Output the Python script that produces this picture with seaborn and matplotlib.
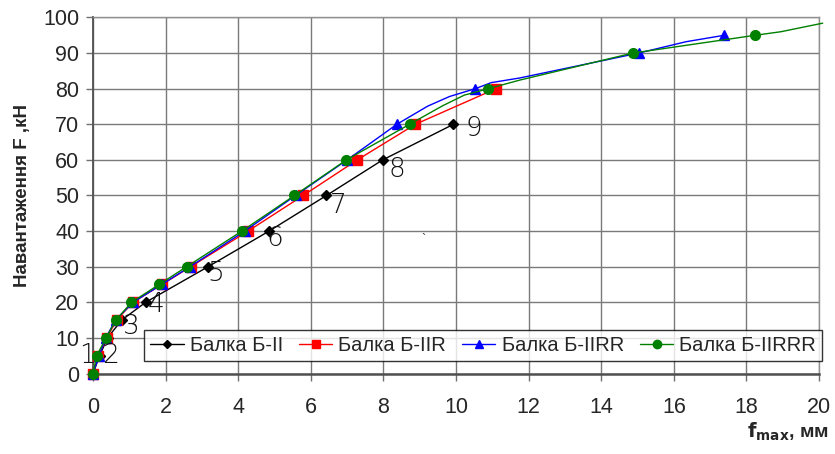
import numpy as np
import pandas as pd
import seaborn as sns
import matplotlib
matplotlib.use("Agg")
import matplotlib.pyplot as plt
from matplotlib.lines import Line2D

# ---- data ----
names = ["Балка Б-II", "Балка Б-IIR", "Балка Б-IIRR", "Балка Б-IIRRR"]

x_b2 = [0, 0.18, 0.40, 0.79, 1.45, 3.17, 4.85, 6.43, 7.98, 9.93]
f_b2 = [0, 5, 10, 15, 20, 30, 40, 50, 60, 70]

x_b2r = [0, 0.15, 0.38, 0.65, 1.10, 1.90, 2.69, 4.27, 5.79, 7.28, 8.88, 11.10]
f_b2r = [0, 5, 10, 15, 20, 25, 30, 40, 50, 60, 70, 80]

x_b2rr = [0, 0.17, 0.35, 0.62, 1.10, 1.89, 2.67, 4.18, 5.58, 7.00, 8.37, 10.53, 15.03, 17.39]
f_b2rr = [0, 5, 10, 15, 20, 25, 30, 40, 50, 60, 70, 80, 90, 95]

x_b2rrr = [0, 0.10, 0.36, 0.63, 1.06, 1.82, 2.58, 4.10, 5.55, 6.98, 8.72, 10.89, 14.87, 18.24]
f_b2rrr = [0, 5, 10, 15, 20, 25, 30, 40, 50, 60, 70, 80, 90, 95]

# unmarked intermediate vertices of the curves
xc_b2rr = [9.22, 9.82, 10.97, 11.75, 16.34]
fc_b2rr = [75.1, 77.8, 81.7, 83.0, 93.2]
xc_b2rrr = [9.63, 10.23, 11.75, 18.95, 20.10]
fc_b2rrr = [75.2, 78.2, 82.4, 96.0, 98.4]

point_labels = ["1", "2", "3", "4", "5", "6", "7", "8", "9"]
label_offsets = [(-12, 0), (3, -18), (10, -6), (10, -2), (8, -7),
                 (6, -7), (12, -10), (14, -10), (20, -4)]

x_ticks = list(range(0, 21, 2))
y_ticks = list(range(0, 101, 10))

colors = ["black", "red", "blue", "green"]
markers = ["D", "s", "^", "o"]
msizes = [5, 7, 7, 7]

# ---- build frames ----
marked = pd.concat([
    pd.DataFrame({"x": x_b2, "F": f_b2, "s": names[0]}),
    pd.DataFrame({"x": x_b2r, "F": f_b2r, "s": names[1]}),
    pd.DataFrame({"x": x_b2rr, "F": f_b2rr, "s": names[2]}),
    pd.DataFrame({"x": x_b2rrr, "F": f_b2rrr, "s": names[3]}),
], ignore_index=True)

curve = pd.concat([
    marked,
    pd.DataFrame({"x": xc_b2rr, "F": fc_b2rr, "s": names[2]}),
    pd.DataFrame({"x": xc_b2rrr, "F": fc_b2rrr, "s": names[3]}),
], ignore_index=True).sort_values(["s", "x"])

sns.set_style("white")
plt.rcParams["font.family"] = ["Liberation Sans", "DejaVu Sans"]

fig = plt.figure(figsize=(8.35, 4.54), dpi=100)
ax = fig.add_axes([0.1114, 0.1773, 0.8695, 0.7842])

for i, n in enumerate(names):
    c = curve[curve.s == n]
    sns.lineplot(data=c, x="x", y="F", color=colors[i], lw=1.0, sort=False,
                 estimator=None, ax=ax, legend=False, zorder=3 + i)
    m = marked[marked.s == n]
    ax.plot(m.x, m.F, ls="none", marker=markers[i], ms=msizes[i],
            color=colors[i], mec=colors[i], zorder=3.5 + i)

for ln in ax.get_lines():
    ln.set_clip_on(False)

# point labels on the Б-II curve
for lab, (px, py), (dx, dy) in zip(point_labels, zip(x_b2[1:], f_b2[1:]), label_offsets):
    ax.annotate(lab, (px, py), xytext=(dx * 0.72, dy * 0.72), textcoords="offset points",
                ha="center", va="center", fontsize=19, color="#111111",
                family=["DejaVu Sans"], fontweight="light", zorder=10)

ax.text(9.1, 37.5, "`", fontsize=9, color="#333", ha="center", va="center")

ax.set_xlim(0, 20)
ax.set_ylim(0, 100)
ax.set_xticks(x_ticks)
ax.set_yticks(y_ticks)
ax.tick_params(axis="both", labelsize=15.5, length=5, width=1, color="#707070",
               direction="out", pad=5, bottom=True, left=True)
ax.tick_params(axis="x", pad=12)
ax.grid(True, color="#7a7a7a", lw=1.0)
for s in ax.spines.values():
    s.set_color("#909090")
    s.set_linewidth(1.0)
ax.spines["bottom"].set_color("#505050")
ax.spines["bottom"].set_linewidth(1.8)
ax.spines["left"].set_color("#505050")
ax.spines["left"].set_linewidth(1.3)

ax.set_xlabel("")
ax.set_ylabel("Навантаження F ,кН", fontsize=13.5, fontweight="bold", labelpad=9)

fig.text(0.993, 0.025, r"$\mathbf{f}_{\mathbf{max}}$" + ", мм", ha="right", va="bottom",
         fontsize=14, fontweight="bold")

handles = [Line2D([], [], color=colors[i], lw=1.0, marker=markers[i],
                  ms=msizes[i] - 1, mec=colors[i]) for i in range(4)]
leg = ax.legend(handles, names, loc="lower right", bbox_to_anchor=(1.004, 0.035),
                ncol=4, fontsize=14.5, frameon=True, fancybox=False, borderaxespad=0,
                handlelength=1.65, columnspacing=0.8, handletextpad=0.3,
                borderpad=0.3)
leg.get_frame().set_edgecolor("black")
leg.get_frame().set_linewidth(1.0)
leg.set_zorder(20)

fig.savefig("out.png", dpi=100)
